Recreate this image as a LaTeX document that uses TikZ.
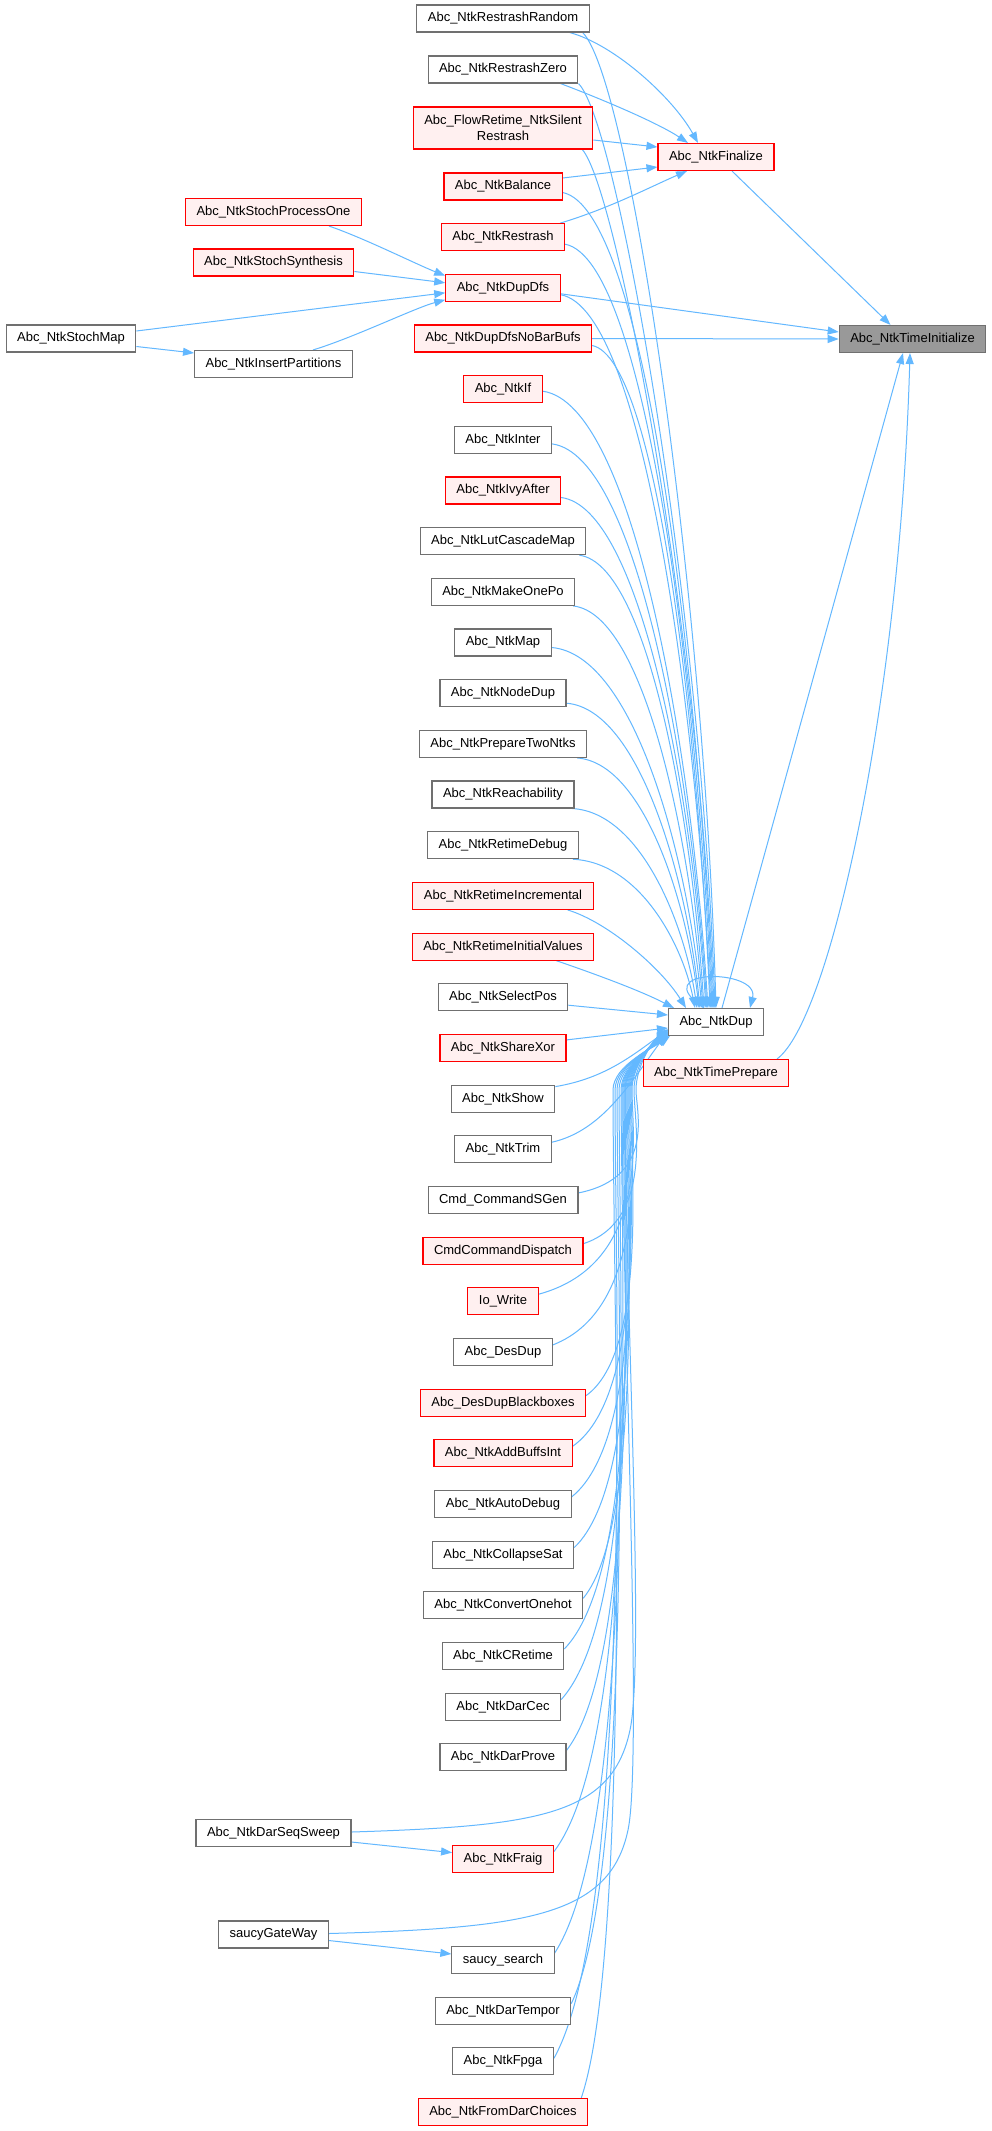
\documentclass[tikz,border=0pt]{standalone}
\usepackage{fontspec}
\setmainfont{Liberation Sans}
\usetikzlibrary{arrows.meta,calc}
\pgfdeclarelayer{bglayer}
\pgfdeclarelayer{edgelayer}
\pgfsetlayers{bglayer,edgelayer,main}
\definecolor{boxgray}{HTML}{707070}
\definecolor{redfill}{HTML}{FFF0F0}
\definecolor{rootfill}{HTML}{999999}
\definecolor{linkc}{HTML}{63B8FF}
\newcommand\upE[2]{\draw[lnk] let \p1=(#1), \p2=(#2), \n1={\x2-\x1}, \n2={\y1-\y2} in (\p1) .. controls ({\x1+0.55*\n1},{\y1-0.02*\n2}) and ({\x2-0.1*\n1},{\y2+0.42*\n2}) .. (\p2);}
\newcommand\loE[2]{\draw[lnk] let \p1=(#1), \p2=(#2), \n1={\x2-\x1}, \n2={\y2-\y1} in (\p1) .. controls ({\x1+0.45*\n1},{\y1+0.06*\n2+5}) and ({\x2-0.3*\n1},{\y2-0.42*\n2}) .. (\p2);}
\newcommand\loW[3]{\draw[lnk] let \p1=(#1), \p2=(#2), \n2={-1090-\y1} in (\p1) .. controls ({#3+20},{\y1+0.15*\n2}) and (#3,{-1090-0.2*\n2}) .. (#3,-1090) .. controls (#3,-1065) and ({\x2-14},{\y2-10}) .. (\p2);}
\begin{document}
\begin{tikzpicture}[x=1pt,y=1pt,
  box/.style={draw=boxgray, fill=white, line width=1.1pt, minimum height=27pt, inner xsep=11pt, inner ysep=2pt, text height=9.5pt, text depth=2.7pt, font=\fontsize{13}{16}\selectfont},
  rbox/.style={box, draw=red, fill=redfill},
  root/.style={box, fill=rootfill},
  lnk/.style={draw=linkc, line width=1pt, -{Triangle[length=11pt,width=8pt]}}]
\begin{pgfonlayer}{bglayer}
\fill[white] (0,0) rectangle (992,-2131);
\end{pgfonlayer}
% column 3
\node[root] (ti) at (912.5,-339) {Abc\_NtkTimeInitialize};
\node[rbox] (fin) at (716,-157) {Abc\_NtkFinalize};
\node[box] (dup) at (716,-1022) {Abc\_NtkDup};
\node[rbox] (tp) at (716,-1073) {Abc\_NtkTimePrepare};
% column 0/1
\node[box] (sm) at (71,-338.5) {Abc\_NtkStochMap};
\node[rbox] (spo) at (273.5,-212) {Abc\_NtkStochProcessOne};
\node[rbox] (ssyn) at (273.5,-262.5) {Abc\_NtkStochSynthesis};
\node[box] (ip) at (273.5,-364) {Abc\_NtkInsertPartitions};
\node[box] (dss) at (273.5,-1833) {Abc\_NtkDarSeqSweep};
\node[box] (sgw) at (273.5,-1934.5) {saucyGateWay};
% column 2
\node[box] (rr) at (503,-18.5) {Abc\_NtkRestrashRandom};
\node[box] (rz) at (503,-69.5) {Abc\_NtkRestrashZero};
\node[rbox, align=center, text height={}, text depth={}, minimum height=42pt] (flow) at (503,-128) {Abc\_FlowRetime\_NtkSilent\\Restrash};
\node[rbox] (bal) at (503,-186.5) {Abc\_NtkBalance};
\node[rbox] (res) at (503,-237.2) {Abc\_NtkRestrash};
\node[rbox] (dd) at (503,-287.8) {Abc\_NtkDupDfs};
\node[rbox] (nbb) at (503,-338.5) {Abc\_NtkDupDfsNoBarBufs};
\node[rbox] (nif) at (503,-389.2) {Abc\_NtkIf};
\node[box] (inter) at (503,-439.9) {Abc\_NtkInter};
\node[rbox] (ivy) at (503,-490.5) {Abc\_NtkIvyAfter};
\node[box] (lcm) at (503,-541.2) {Abc\_NtkLutCascadeMap};
\node[box] (mop) at (503,-591.9) {Abc\_NtkMakeOnePo};
\node[box] (map) at (503,-642.5) {Abc\_NtkMap};
\node[box] (nd) at (503,-693.2) {Abc\_NtkNodeDup};
\node[box] (ptn) at (503,-743.9) {Abc\_NtkPrepareTwoNtks};
\node[box] (reach) at (503,-794.5) {Abc\_NtkReachability};
\node[box] (rdbg) at (503,-845.2) {Abc\_NtkRetimeDebug};
\node[rbox] (rinc) at (503,-895.9) {Abc\_NtkRetimeIncremental};
\node[rbox] (riv) at (503,-946.6) {Abc\_NtkRetimeInitialValues};
\node[box] (sel) at (503,-997.2) {Abc\_NtkSelectPos};
\node[rbox] (sx) at (503,-1047.9) {Abc\_NtkShareXor};
\node[box] (show) at (503,-1098.6) {Abc\_NtkShow};
\node[box] (trim) at (503,-1149.2) {Abc\_NtkTrim};
\node[box] (sgen) at (503,-1199.9) {Cmd\_CommandSGen};
\node[rbox] (cmdd) at (503,-1250.6) {CmdCommandDispatch};
\node[rbox] (io) at (503,-1301.2) {Io\_Write};
\node[box] (desdup) at (503,-1351.9) {Abc\_DesDup};
\node[rbox] (ddbb) at (503,-1402.6) {Abc\_DesDupBlackboxes};
\node[rbox] (abi) at (503,-1453.3) {Abc\_NtkAddBuffsInt};
\node[box] (adbg) at (503,-1503.9) {Abc\_NtkAutoDebug};
\node[box] (cs) at (503,-1554.6) {Abc\_NtkCollapseSat};
\node[box] (coh) at (503,-1605.3) {Abc\_NtkConvertOnehot};
\node[box] (cret) at (503,-1655.9) {Abc\_NtkCRetime};
\node[box] (dcec) at (503,-1706.6) {Abc\_NtkDarCec};
\node[box] (dprove) at (503,-1757.3) {Abc\_NtkDarProve};
\node[rbox] (fraig) at (503,-1858.6) {Abc\_NtkFraig};
\node[box] (ss) at (503,-1960) {saucy\_search};
\node[box] (dtemp) at (503,-2010.6) {Abc\_NtkDarTempor};
\node[box] (fpga) at (503,-2061.3) {Abc\_NtkFpga};
\node[rbox] (fdc) at (503,-2112) {Abc\_NtkFromDarChoices};
\begin{pgfonlayer}{edgelayer}
% edges to TimeInitialize
\draw[lnk] ([xshift=16pt]fin.south) -- ([xshift=-22pt]ti.north);
\draw[lnk] ([yshift=-6pt]dd.east) -- ([yshift=7pt]ti.west);
\draw[lnk] (nbb.east) -- (ti.west);
\draw[lnk] ([xshift=6pt]dup.north) -- ([xshift=-9.5pt]ti.south);
\draw[lnk] ([xshift=61pt]tp.north) .. controls +(53,39) and +(-10,-348) .. ([xshift=-2.5pt]ti.south);
% edges to Finalize
\draw[lnk] ([xshift=-20pt]rr.south east) .. controls +(45,-12) and +(-25,45) .. ([xshift=-18pt]fin.north);
\draw[lnk] ([xshift=-18pt]rz.south east) .. controls +(40,-15) and +(-30,20) .. ([xshift=-28pt]fin.north);
\draw[lnk] ([yshift=-12pt]flow.east) -- ([yshift=10pt]fin.west);
\draw[lnk] ([yshift=8.5pt]bal.east) -- ([yshift=-10pt]fin.west);
\draw[lnk] ([xshift=-5pt]res.north east) .. controls +(50,15) and +(-35,-15) .. ([xshift=-29pt]fin.south);
% edges to DupDfs
\draw[lnk] ([xshift=-33pt]spo.south east) .. controls +(35,-12) and +(-30,12) .. ([yshift=-2pt]dd.north west);
\draw[lnk] ([yshift=-9pt]ssyn.east) -- ([yshift=5pt]dd.west);
\draw[lnk] ([yshift=7.5pt]sm.east) -- ([yshift=-5pt]dd.west);
\draw[lnk] ([xshift=-40pt]ip.north east) .. controls +(40,12) and +(-30,-8) .. ([yshift=-12pt]dd.west);
\draw[lnk] ([yshift=-8pt]sm.east) -- ([yshift=11pt]ip.west);
% lower-left pairs
\draw[lnk] ([yshift=-9pt]dss.east) -- ([yshift=6pt]fraig.west);
\draw[lnk] ([yshift=-6pt]sgw.east) -- ([yshift=6pt]ss.west);
% edges to NtkDup from above
\draw[lnk] ([xshift=-7pt]rr.south east) .. controls +(47,-48) and +(-12,420) .. (dup.north);
\draw[lnk] (rz.south east) .. controls +(40,-40) and +(-14,400) .. ([xshift=-1pt]dup.north);
\draw[lnk] ([xshift=-11pt]flow.south east) .. controls +(35,-40) and +(-15,380) .. ([xshift=-2pt]dup.north);
\upE{[yshift=-6pt]bal.east}{[xshift=-3pt]dup.north}
\upE{[yshift=-7pt]res.east}{[xshift=-4pt]dup.north}
\upE{[yshift=-7pt]dd.east}{[xshift=-5pt]dup.north}
\upE{[yshift=-7pt]nbb.east}{[xshift=-6pt]dup.north}
\upE{[yshift=-2pt]nif.east}{[xshift=-8pt]dup.north}
\upE{[yshift=-4pt]inter.east}{[xshift=-9pt]dup.north}
\upE{[yshift=-7pt]ivy.east}{[xshift=-10pt]dup.north}
\upE{[xshift=-7pt]lcm.south east}{[xshift=-12pt]dup.north}
\upE{[xshift=-2pt]mop.south east}{[xshift=-13pt]dup.north}
\upE{[yshift=-5pt]map.east}{[xshift=-14pt]dup.north}
\upE{[yshift=-10pt]nd.east}{[xshift=-16pt]dup.north}
\upE{[xshift=-10pt]ptn.south east}{[xshift=-17pt]dup.north}
\upE{[xshift=-2pt]reach.south east}{[xshift=-19pt]dup.north}
\upE{[xshift=-6pt]rdbg.south east}{[xshift=-21pt]dup.north}
\draw[lnk] ([xshift=-26pt]rinc.south east) .. controls +(40,-12) and +(-25,40) .. ([xshift=18pt]dup.north west);
\draw[lnk] ([xshift=-38pt]riv.south east) .. controls +(35,-12) and +(-35,18) .. ([xshift=6pt]dup.north west);
\draw[lnk] ([yshift=-8pt]sel.east) -- ([yshift=7pt]dup.west);
\draw[lnk] ([yshift=8pt]sx.east) -- ([yshift=-6pt]dup.west);
% edges to NtkDup from below
\loE{[yshift=12pt]show.east}{[yshift=-8pt]dup.west}
\loE{[yshift=7pt]trim.east}{[yshift=-10pt]dup.west}
\loW{[yshift=7pt]sgen.east}{[yshift=7pt]dup.south west}{636}
\loW{[yshift=7pt]cmdd.east}{[yshift=6pt]dup.south west}{634}
\loW{[yshift=7pt]io.east}{[yshift=6pt]dup.south west}{632}
\loW{[yshift=7pt]desdup.east}{[yshift=5pt]dup.south west}{631}
\loW{[yshift=7pt]ddbb.east}{[yshift=5pt]dup.south west}{630}
\loW{[yshift=7pt]abi.east}{[yshift=4pt]dup.south west}{629}
\loW{[yshift=7pt]adbg.east}{[yshift=4pt]dup.south west}{628}
\loW{[yshift=7pt]cs.east}{[yshift=3pt]dup.south west}{627}
\loW{[yshift=7pt]coh.east}{[yshift=3pt]dup.south west}{626}
\loW{[yshift=7pt]cret.east}{[yshift=2pt]dup.south west}{625}
\loW{[yshift=7pt]dcec.east}{[yshift=2pt]dup.south west}{624}
\loW{[yshift=7pt]dprove.east}{[yshift=1pt]dup.south west}{623}
\loW{[yshift=7pt]fraig.east}{[yshift=1pt]dup.south west}{621}
\loW{[yshift=7pt]ss.east}{dup.south west}{619}
\loW{[yshift=7pt]dtemp.east}{dup.south west}{617}
\loW{[yshift=3pt]fpga.east}{[xshift=1pt]dup.south west}{615}
\loW{[xshift=-7pt]fdc.north east}{[xshift=2pt]dup.south west}{613}
\draw[lnk] ([yshift=1pt]dss.east) .. controls (540,-1826) and (612,-1815) .. (630,-1730) .. controls (645,-1660) and (625,-1300) .. (625,-1090) .. controls (625,-1065) and (654,-1045) .. ([yshift=3pt]dup.south west);
\draw[lnk] ([yshift=1pt]sgw.east) .. controls (530,-1928) and (610,-1915) .. (628,-1830) .. controls (643,-1760) and (622,-1300) .. (622,-1090) .. controls (622,-1065) and (654,-1046) .. ([yshift=2pt]dup.south west);
% self loop
\draw[lnk] ([xshift=-12pt]dup.north) .. controls +(-60,40) and +(10,40) .. ([xshift=34pt]dup.north);
\end{pgfonlayer}
\end{tikzpicture}
\end{document}
